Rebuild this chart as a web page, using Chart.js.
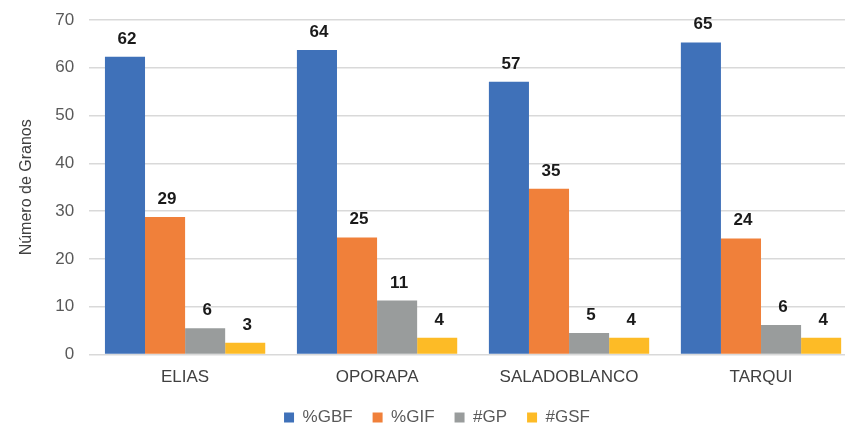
<!DOCTYPE html>
<html>
<head>
<meta charset="utf-8">
<script src="https://cdn.jsdelivr.net/npm/chart.js@4.4.1/dist/chart.umd.min.js"></script>
<style>
  html, body { margin: 0; padding: 0; background: #fff; overflow: hidden; }
  #wrap { width: 857px; height: 425px; position: relative; }
</style>
</head>
<body>
<div id="wrap"><canvas id="chart"></canvas></div>
<script>
const categories = ['ELIAS', 'OPORAPA', 'SALADOBLANCO', 'TARQUI'];
const gbf = [62.3, 63.7, 57.1, 65.3];
const gif = [28.8, 24.5, 34.7, 24.3];
const gp = [5.5, 11.3, 4.5, 6.2];
const gsf = [2.5, 3.5, 3.5, 3.5];
const seriesNames = ['%GBF', '%GIF', '#GP', '#GSF'];
const yTicks = [0, 10, 20, 30, 40, 50, 60, 70];

const colors = ['#3F71B9', '#F0803A', '#999C9C', '#FDBB26'];
const fontFamily = '"Liberation Sans", Arial, sans-serif';

// draws the rounded value above each bar
const barLabels = {
    id: 'barLabels',
    afterDatasetsDraw(chart) {
        const ctx = chart.ctx;
        ctx.save();
        ctx.font = 'bold 17px ' + fontFamily;
        ctx.fillStyle = '#1a1a1a';
        ctx.textAlign = 'center';
        ctx.textBaseline = 'alphabetic';
        chart.data.datasets.forEach((ds, i) => {
            chart.getDatasetMeta(i).data.forEach((bar, j) => {
                ctx.fillText(Math.round(ds.data[j]), bar.x + 2, bar.y - 13);
            });
        });
        ctx.restore();
    }
};

const allSeries = [gbf, gif, gp, gsf];

new Chart(document.getElementById('chart'), {
    type: 'bar',
    data: {
        labels: categories,
        datasets: allSeries.map((vals, i) => ({
            label: seriesNames[i],
            data: vals,
            backgroundColor: colors[i],
            borderWidth: 0,
            categoryPercentage: 0.835,
            barPercentage: 1
        }))
    },
    options: {
        responsive: true,
        maintainAspectRatio: false,
        animation: false,
        layout: { padding: { top: 20, left: 17, right: 0, bottom: -11 } },
        plugins: {
            tooltip: { enabled: false },
            legend: {
                position: 'bottom',
                labels: {
                    boxWidth: 10,
                    boxHeight: 10,
                    padding: 20,
                    color: '#595959',
                    font: { family: fontFamily, size: 17 }
                }
            }
        },
        scales: {
            x: {
                grid: { display: false },
                border: { display: false },
                afterFit(axis) {
                    axis.height -= 4;
                },
                ticks: {
                    color: '#404040',
                    padding: 5,
                    font: { family: fontFamily, size: 17 }
                }
            },
            y: {
                min: 0,
                max: 70,
                afterBuildTicks(axis) {
                    axis.ticks = yTicks.map(v => ({ value: v }));
                },
                afterFit(axis) {
                    axis.paddingTop = 0;
                },
                grid: { color: '#d9d9d9', lineWidth: 1.5, drawTicks: false },
                border: { display: false },
                ticks: {
                    color: '#595959',
                    padding: 15,
                    font: { family: fontFamily, size: 17 }
                },
                title: {
                    display: true,
                    text: 'Número de Granos',
                    color: '#404040',
                    padding: { top: 0, bottom: 4 },
                    font: { family: fontFamily, size: 16 }
                }
            }
        }
    },
    plugins: [barLabels]
});
</script>
</body>
</html>
